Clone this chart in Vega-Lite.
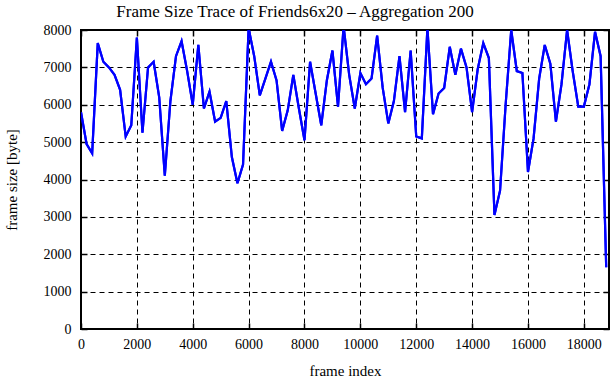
{
  "$schema": "https://vega.github.io/schema/vega-lite/v6.json",
  "width": 528,
  "height": 299,
  "autosize": {"type": "none"},
  "padding": {"left": 81, "top": 30, "right": 2, "bottom": 51},
  "background": "white",
  "title": {
    "text": "Frame Size Trace of Friends6x20 – Aggregation 200",
    "font": "Liberation Serif",
    "fontSize": 17,
    "fontWeight": "normal",
    "color": "black",
    "anchor": "middle",
    "dx": -50,
    "offset": 2
  },
  "config": {
    "font": "Liberation Serif",
    "view": {"stroke": "black", "strokeWidth": 2},
    "axis": {
      "labelFont": "Liberation Serif",
      "labelFontSize": 14,
      "labelColor": "black",
      "titleFont": "Liberation Serif",
      "titleFontSize": 15,
      "titleFontWeight": "normal",
      "titleColor": "black",
      "domain": false,
      "tickColor": "black",
      "tickWidth": 1.5
    }
  },
  "data": {
    "values": [
      {"frame": 0, "size": 5800}, {"frame": 200, "size": 4950}, {"frame": 400, "size": 4700},
      {"frame": 600, "size": 7650}, {"frame": 800, "size": 7150}, {"frame": 1000, "size": 7000},
      {"frame": 1200, "size": 6800}, {"frame": 1400, "size": 6400}, {"frame": 1600, "size": 5150},
      {"frame": 1800, "size": 5450}, {"frame": 2000, "size": 7800}, {"frame": 2200, "size": 5250},
      {"frame": 2400, "size": 7000}, {"frame": 2600, "size": 7150}, {"frame": 2800, "size": 6200},
      {"frame": 3000, "size": 4100}, {"frame": 3200, "size": 6100}, {"frame": 3400, "size": 7300},
      {"frame": 3600, "size": 7700}, {"frame": 3800, "size": 6900}, {"frame": 4000, "size": 6000},
      {"frame": 4200, "size": 7600}, {"frame": 4400, "size": 5900}, {"frame": 4600, "size": 6350},
      {"frame": 4800, "size": 5550}, {"frame": 5000, "size": 5650}, {"frame": 5200, "size": 6100},
      {"frame": 5400, "size": 4600}, {"frame": 5600, "size": 3900}, {"frame": 5800, "size": 4400},
      {"frame": 6000, "size": 8050}, {"frame": 6200, "size": 7300}, {"frame": 6400, "size": 6250},
      {"frame": 6600, "size": 6700}, {"frame": 6800, "size": 7150}, {"frame": 7000, "size": 6650},
      {"frame": 7200, "size": 5300}, {"frame": 7400, "size": 5850}, {"frame": 7600, "size": 6800},
      {"frame": 7800, "size": 5900}, {"frame": 8000, "size": 5050}, {"frame": 8200, "size": 7150},
      {"frame": 8400, "size": 6300}, {"frame": 8600, "size": 5450}, {"frame": 8800, "size": 6650},
      {"frame": 9000, "size": 7450}, {"frame": 9200, "size": 5950}, {"frame": 9400, "size": 8100},
      {"frame": 9600, "size": 6800}, {"frame": 9800, "size": 5900}, {"frame": 10000, "size": 6850},
      {"frame": 10200, "size": 6550}, {"frame": 10400, "size": 6700}, {"frame": 10600, "size": 7850},
      {"frame": 10800, "size": 6450}, {"frame": 11000, "size": 5500}, {"frame": 11200, "size": 6100},
      {"frame": 11400, "size": 7300}, {"frame": 11600, "size": 5800}, {"frame": 11800, "size": 7450},
      {"frame": 12000, "size": 5150}, {"frame": 12200, "size": 5100}, {"frame": 12400, "size": 8050},
      {"frame": 12600, "size": 5750}, {"frame": 12800, "size": 6300}, {"frame": 13000, "size": 6450},
      {"frame": 13200, "size": 7550}, {"frame": 13400, "size": 6800}, {"frame": 13600, "size": 7500},
      {"frame": 13800, "size": 7000}, {"frame": 14000, "size": 5800}, {"frame": 14200, "size": 6950},
      {"frame": 14400, "size": 7650}, {"frame": 14600, "size": 7250}, {"frame": 14800, "size": 3050},
      {"frame": 15000, "size": 3700}, {"frame": 15200, "size": 6000}, {"frame": 15400, "size": 8000},
      {"frame": 15600, "size": 6900}, {"frame": 15800, "size": 6850}, {"frame": 16000, "size": 4200},
      {"frame": 16200, "size": 5100}, {"frame": 16400, "size": 6700}, {"frame": 16600, "size": 7600},
      {"frame": 16800, "size": 7100}, {"frame": 17000, "size": 5550}, {"frame": 17200, "size": 6550},
      {"frame": 17400, "size": 8000}, {"frame": 17600, "size": 6900}, {"frame": 17800, "size": 5950},
      {"frame": 18000, "size": 5950}, {"frame": 18200, "size": 6550}, {"frame": 18400, "size": 7950},
      {"frame": 18600, "size": 7300}, {"frame": 18800, "size": 1650}
    ]
  },
  "layer": [
    {
      "mark": {"type": "line", "color": "#0000ff", "strokeWidth": 2.2, "clip": true},
      "encoding": {
        "x": {
          "field": "frame", "type": "quantitative",
          "scale": {"domain": [0, 18900], "nice": false, "zero": true},
          "axis": {
            "title": "frame index", "values": [0,2000,4000,6000,8000,10000,12000,14000,16000,18000],
            "format": "d", "grid": true, "gridColor": "black", "gridDash": [5, 4], "gridWidth": 1,
            "tickSize": -6, "labelPadding": 14, "titlePadding": 12, "labelFlush": false,
            "labelFont": "Liberation Serif", "labelFontSize": 14, "titleFont": "Liberation Serif", "titleFontSize": 15
          }
        },
        "y": {
          "field": "size", "type": "quantitative",
          "scale": {"domain": [0, 8000], "nice": false},
          "axis": {
            "title": "frame size [byte]", "values": [0,1000,2000,3000,4000,5000,6000,7000,8000],
            "format": "d", "grid": true, "gridColor": "black", "gridDash": [5, 4], "gridWidth": 1,
            "tickSize": -6, "labelPadding": 16, "titlePadding": 24,
            "labelFont": "Liberation Serif", "labelFontSize": 14, "titleFont": "Liberation Serif", "titleFontSize": 15
          }
        }
      }
    },
    {
      "mark": {"type": "line", "color": "#0000ff", "strokeWidth": 2.2, "clip": true},
      "encoding": {
        "x": {
          "field": "frame", "type": "quantitative",
          "scale": {"domain": [0, 18900], "nice": false},
          "axis": {"orient": "top", "title": null, "labels": false, "grid": false,
                   "values": [0,2000,4000,6000,8000,10000,12000,14000,16000,18000], "tickSize": -6}
        },
        "y": {
          "field": "size", "type": "quantitative",
          "scale": {"domain": [0, 8000], "nice": false},
          "axis": {"orient": "right", "title": null, "labels": false, "grid": false,
                   "values": [0,1000,2000,3000,4000,5000,6000,7000,8000], "tickSize": -6}
        }
      }
    }
  ],
  "resolve": {"axis": {"x": "independent", "y": "independent"}}
}
